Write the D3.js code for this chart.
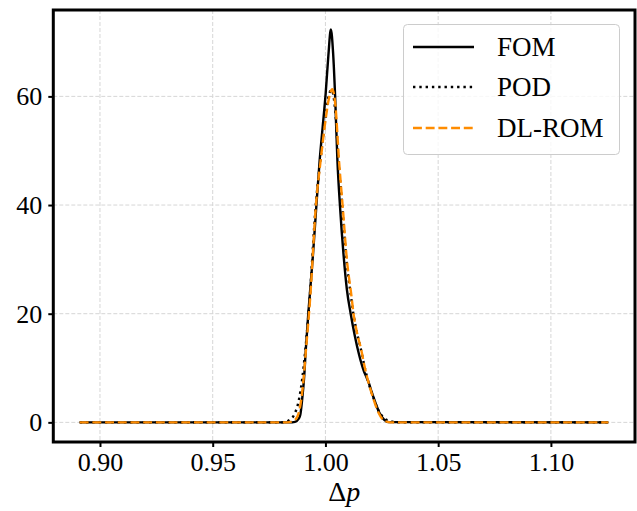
<!DOCTYPE html>
<html><head><meta charset="utf-8">
<script src="https://cdn.jsdelivr.net/npm/d3@7"></script>
<style>body{margin:0;background:#fff}svg{display:block}</style>
</head><body>
<script>
const xTicks = [0.90, 0.95, 1.00, 1.05, 1.10];
const xTickLabels = ["0.90", "0.95", "1.00", "1.05", "1.10"];
const yTicks = [0, 20, 40, 60];
const seriesNames = ["FOM", "POD", "DL-ROM"];

const fomX = [0.891,0.984,0.9865,0.9880,0.9888,0.9897,0.9905,0.9913,0.9924,0.9945,0.9960,0.9974,0.9988,1.0001,1.0013,1.0024,1.0034,1.0043,1.0053,1.0065,1.0080,1.0095,1.0112,1.0130,1.0149,1.0170,1.0183,1.0192,1.0205,1.0222,1.0240,1.0260,1.0280,1.1255];
const fomY = [0,0,0.1,0.6,1.3,4.3,8,13.5,20,31,40,48,54.5,60.5,67.5,72.3,68,60,48.3,39.5,31,24.5,20,16,12.5,9.5,8.2,7.3,5.6,3.6,1.7,0.5,0.05,0];

const podX = [0.891,0.981,0.9835,0.9860,0.9883,0.9897,0.9910,0.9930,0.9957,0.9978,1.0000,1.0014,1.0027,1.0042,1.0058,1.0074,1.0093,1.0115,1.0122,1.0140,1.0157,1.0175,1.0192,1.0213,1.0235,1.0260,1.0290,1.0320,1.1255];
const podY = [0,0,0.3,1.3,4.3,8,13,22.7,40,48.3,56,60,61.2,58,48.3,40,30,22.7,20.5,16.5,13.5,10,7.2,4.5,2.2,0.8,0.2,0,0];

const dlX = [0.891,0.983,0.9855,0.9875,0.9893,0.9903,0.9913,0.9932,0.9958,0.9979,1.0000,1.0015,1.0030,1.0045,1.0060,1.0076,1.0095,1.0117,1.0123,1.0140,1.0158,1.0175,1.0190,1.0213,1.0235,1.0255,1.0275,1.0300,1.1255];
const dlY = [0,0,0.2,1.0,4.3,8,13,22.7,40,48.3,55.5,59.5,61.3,58,48.3,40,30,22.7,20.5,16.5,13.5,10,7.5,4.3,1.8,0.5,0.1,0,0];

const W = 637, H = 511;
const L = 53.3, R = 635, T = 10, B = 442;
const svg = d3.select("body").append("svg").attr("width", W).attr("height", H);
const x = d3.scaleLinear().domain([0.8793, 1.1373]).range([L, R]);
const y = d3.scaleLinear().domain([-3.615, 75.9]).range([B, T]);
const font = "'Liberation Serif','Times New Roman',serif";

// grid
const g = svg.append("g");
g.selectAll(".gx").data(xTicks).enter().append("line")
  .attr("x1", d => x(d)).attr("x2", d => x(d)).attr("y1", T).attr("y2", B)
  .attr("stroke", "#d6d6d6").attr("stroke-width", 1).attr("stroke-dasharray", "4,2");
g.selectAll(".gy").data(yTicks).enter().append("line")
  .attr("y1", d => y(d)).attr("y2", d => y(d)).attr("x1", L).attr("x2", R)
  .attr("stroke", "#d6d6d6").attr("stroke-width", 1).attr("stroke-dasharray", "4,2");

const line = d3.line().x(d => x(d[0])).y(d => y(d[1])).curve(d3.curveMonotoneX);
const series = [
  {name: seriesNames[0], pts: d3.zip(fomX, fomY), color: "#000", dash: null, w: 2.4},
  {name: seriesNames[1], pts: d3.zip(podX, podY), color: "#000", dash: "2.4,3.9", w: 2.4},
  {name: seriesNames[2], pts: d3.zip(dlX, dlY), color: "#ff8c00", dash: "8.9,3.8", w: 2.4}
];
svg.append("clipPath").attr("id", "c").append("rect").attr("x", L).attr("y", T).attr("width", R - L).attr("height", B - T);
series.forEach(s => {
  svg.append("path").attr("d", line(s.pts)).attr("fill", "none")
    .attr("stroke", s.color).attr("stroke-width", s.w)
    .attr("stroke-dasharray", s.dash).attr("clip-path", "url(#c)");
});

// axes
const xAxis = d3.axisBottom(x).tickValues(xTicks).tickFormat((d, i) => xTickLabels[i]).tickSize(5).tickPadding(6);
const ax = svg.append("g").attr("transform", `translate(0,${B})`).call(xAxis);
ax.select(".domain").remove();
ax.selectAll("line").attr("stroke-width", 2);
ax.selectAll("text").attr("font-family", font).attr("font-size", 26).attr("fill", "#000");

const yAxis = d3.axisLeft(y).tickValues(yTicks).tickSize(5).tickPadding(6);
const ay = svg.append("g").attr("transform", `translate(${L},0)`).call(yAxis);
ay.select(".domain").remove();
ay.selectAll("line").attr("stroke-width", 2);
ay.selectAll("text").attr("font-family", font).attr("font-size", 26).attr("fill", "#000");

// frame
svg.append("rect").attr("x", L).attr("y", T).attr("width", R - L).attr("height", B - T)
  .attr("fill", "none").attr("stroke", "#000").attr("stroke-width", 3);

// x label
const xl = svg.append("text").attr("x", (L + R) / 2).attr("y", 501).attr("text-anchor", "middle")
  .attr("font-family", font).attr("font-size", 28);
xl.append("tspan").text("Δ");
xl.append("tspan").attr("font-style", "italic").text("p");

// legend
const lg = svg.append("g");
lg.append("rect").attr("x", 403.5).attr("y", 24.5).attr("width", 216).attr("height", 130).attr("rx", 4)
  .attr("fill", "#fff").attr("fill-opacity", 0.8).attr("stroke", "#cccccc").attr("stroke-width", 1);
const ly = [47, 87, 128];
series.forEach((s, i) => {
  lg.append("line").attr("x1", 413).attr("x2", 474).attr("y1", ly[i]).attr("y2", ly[i])
    .attr("stroke", s.color).attr("stroke-width", s.w).attr("stroke-dasharray", s.dash);
  lg.append("text").attr("x", 497).attr("y", ly[i] + 9).attr("font-family", font).attr("font-size", 27)
    .text(s.name);
});
</script>
</body></html>
